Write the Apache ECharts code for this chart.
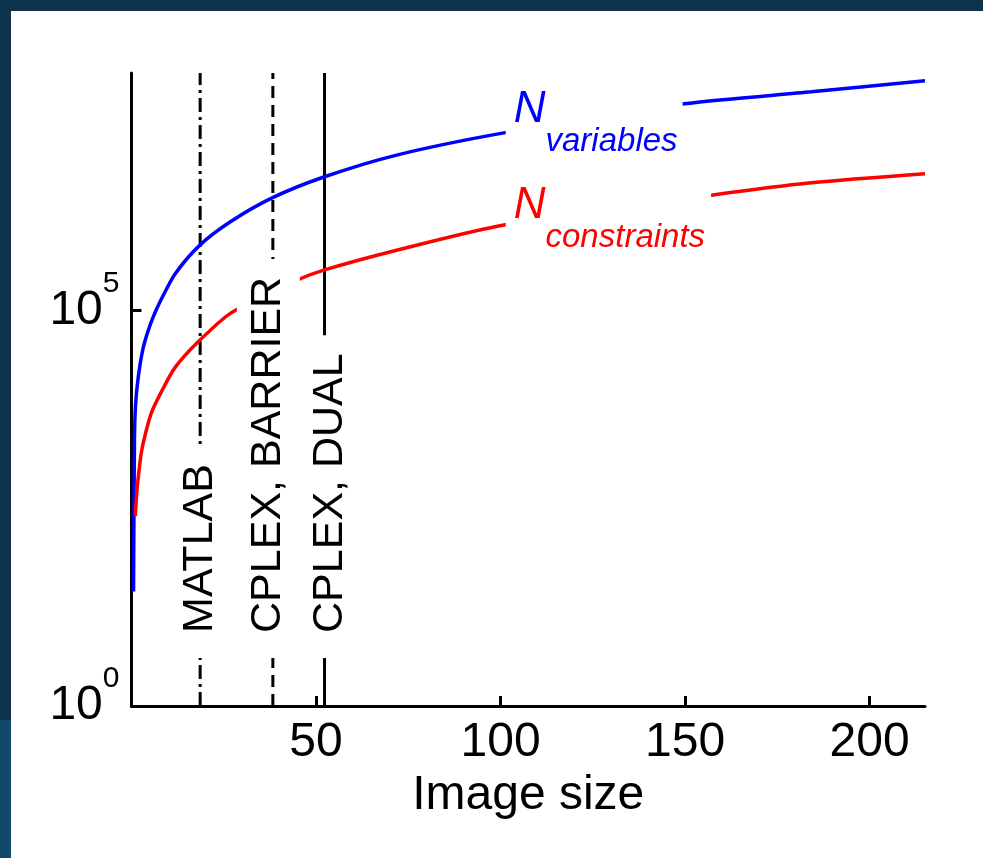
<!DOCTYPE html>
<html>
<head>
<meta charset="utf-8">
<script src="https://cdn.jsdelivr.net/npm/echarts@6/dist/echarts.min.js"></script>
<style>
  html, body { margin: 0; padding: 0; width: 983px; height: 858px; overflow: hidden;
    background: linear-gradient(to bottom, #0d324b 0px, #0d324b 720px, #10486b 720px, #10486b 858px); }
  #chart { position: absolute; left: 11px; top: 11px; width: 972px; height: 847px; background: #ffffff; }
</style>
</head>
<body>
<div id="chart"></div>
<script>
// ---- data ----
const varX = [0.55, 0.8, 1.1, 1.8, 3.1, 4.5, 6.0, 8.0, 11.8, 18.6, 26.7, 38.1, 52.3, 72.1, 100.9, 149.7, 184.2, 215];
const varY = [28, 2300, 6390, 14000, 32600, 55100, 85200, 136000, 289000, 673000, 1310000, 2640000, 4880000, 9240000, 17500000, 40800000, 57800000, 79600000];
const conX = [1.03, 1.49, 2.31, 3.12, 5.38, 8.09, 11.73, 18.06, 27.0, 44.4, 52.3, 72.1, 100.9, 157.6, 184.2, 215];
const conY = [252, 538, 1215, 2050, 5060, 9330, 18750, 40000, 93000, 236000, 325000, 580000, 1200000, 2880000, 4100000, 5330000];
const solverNames = ['MATLAB', 'CPLEX, BARRIER', 'CPLEX, DUAL'];
const solverSizes = [18.6, 38.3, 52.3];
const xTickLabels = [50, 100, 150, 200];
const yTickLabels = [1, 100000];
const seriesNames = ['variables', 'constraints'];

const FONT = "'Liberation Sans', Arial, Helvetica, sans-serif";
const Y_MIN = 1, Y_MAX = 1e8, X_MIN = 0, X_MAX = 215;
const GRID = { left: 120.5, right: 58, top: 62, bottom: 152 };
const CHART_W = 972;
const pxPerUnit = (CHART_W - GRID.left - GRID.right) / (X_MAX - X_MIN);

const chart = echarts.init(document.getElementById('chart'), null, { renderer: 'canvas' });

const pair = (xs, ys) => xs.map((x, i) => [x, ys[i]]);

const solverStyles = [
  { type: [14, 5, 3, 5] },
  { type: [12, 7] },
  { type: 'solid' }
];
// label box paddings [screen-left, screen-top, screen-right, screen-bottom] (text is rotated)
const solverPads = [
  [2, 19, 2, 25],
  [14.5, 18, 5.5, 25],
  [2, 18, 2, 25]
];
// horizontal shift (px) of each label text relative to its line
const solverLabelShift = [0, -4.5, 6];

const series = [];
// vertical solver limit lines
solverSizes.forEach((s, i) => {
  series.push({
    type: 'line', z: 2, silent: true, showSymbol: false, animation: false,
    data: [[s, Y_MIN], [s, Y_MAX]],
    lineStyle: { color: '#000', width: 3, type: solverStyles[i].type }
  });
});
// curves
series.push({
  name: 'N variables', type: 'line', z: 3, showSymbol: false, smooth: 0.25, animation: false,
  data: pair(varX, varY), lineStyle: { color: '#0000ff', width: 3.5 }
});
series.push({
  name: 'N constraints', type: 'line', z: 3, showSymbol: false, smooth: 0.25, animation: false,
  data: pair(conX, conY), lineStyle: { color: '#ff0000', width: 3.5 }
});
// rotated solver labels (white boxes interrupt the lines)
series.push({
  type: 'scatter', z: 10, symbolSize: 0, silent: true, animation: false,
  itemStyle: { opacity: 1 },
  data: solverSizes.map((s, i) => ({
    value: [s + solverLabelShift[i] / pxPerUnit, 4.05],
    label: { formatter: solverNames[i], padding: solverPads[i] }
  })),
  label: {
    show: true, position: 'inside', rotate: 90, align: 'left', verticalAlign: 'middle',
    fontFamily: FONT, fontSize: 43, color: '#000', backgroundColor: '#ffffff', lineHeight: 43
  }
});
// curve labels N_variables / N_constraints
const curveLabelColors = ['#0000ff', '#ff0000'];
const curveRich = c => ({
  n: { color: c, fontSize: 44, lineHeight: 44, fontStyle: 'italic', fontFamily: FONT, verticalAlign: 'top' },
  s: { color: c, fontSize: 33, lineHeight: 71, fontStyle: 'italic', fontFamily: FONT, verticalAlign: 'bottom' }
});
series.push({
  type: 'scatter', z: 11, symbolSize: 0, silent: true, animation: false,
  itemStyle: { opacity: 1 },
  data: [
    { value: [101.4, 6.9e7], label: { formatter: '{n|N}{s|' + seriesNames[0] + '}', padding: [2, 5, 2, 8], rich: curveRich(curveLabelColors[0]) } },
    { value: [101.4, 4.28e6], label: { formatter: '{n|N}{s|' + seriesNames[1] + '}', padding: [2, 6, 2, 8], rich: curveRich(curveLabelColors[1]) } }
  ],
  label: { show: true, position: 'inside', align: 'left', verticalAlign: 'top', backgroundColor: '#ffffff' }
});

const option = {
  animation: false,
  backgroundColor: '#ffffff',
  grid: { left: GRID.left, right: GRID.right, top: GRID.top, bottom: GRID.bottom, containLabel: false },
  xAxis: {
    type: 'value', min: X_MIN, max: X_MAX, interval: 50,
    name: 'Image size', nameLocation: 'middle', nameGap: 52,
    nameTextStyle: { fontFamily: FONT, fontSize: 48, color: '#000' },
    axisLine: { show: true, onZero: false, lineStyle: { color: '#000', width: 3 } },
    axisTick: { show: true, inside: true, length: 10, lineStyle: { color: '#000', width: 3 }, customValues: [0].concat(xTickLabels) },
    axisLabel: { show: true, customValues: xTickLabels, fontFamily: FONT, fontSize: 48, color: '#000', margin: 13 },
    splitLine: { show: false }
  },
  yAxis: {
    type: 'log', logBase: 10, min: Y_MIN, max: Y_MAX,
    axisLine: { show: true, lineStyle: { color: '#000', width: 3 } },
    axisTick: { show: true, inside: true, length: 10, lineStyle: { color: '#000', width: 3 }, customValues: yTickLabels },
    axisLabel: {
      show: true, customValues: yTickLabels, margin: 12,
      formatter: v => '{b|10}{s|' + Math.round(Math.log10(v)) + '}',
      rich: {
        b: { fontFamily: FONT, fontSize: 48, lineHeight: 84, color: '#000', verticalAlign: 'middle' },
        s: { fontFamily: FONT, fontSize: 30, lineHeight: 34, color: '#000', verticalAlign: 'top' }
      }
    },
    splitLine: { show: false }
  },
  series: series
};
chart.setOption(option);
</script>
</body>
</html>
